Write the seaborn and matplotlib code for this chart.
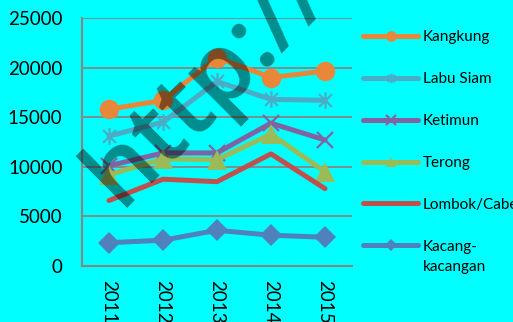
import matplotlib
matplotlib.use("Agg")
import matplotlib.pyplot as plt
from matplotlib.path import Path
import seaborn as sns
import pandas as pd

years = ["2011", "2012", "2013", "2014", "2015"]
kangkung = [15800, 16700, 21000, 19000, 19650]
labu_siam = [13100, 14500, 18600, 16800, 16700]
ketimun = [10100, 11400, 11400, 14400, 12700]
terong = [9200, 10800, 10700, 13300, 9500]
lombok = [6600, 8750, 8500, 11300, 7800]
kacang = [2350, 2600, 3600, 3100, 2900]

series_names = ["Kangkung", "Labu Siam", "Ketimun", "Terong", "Lombok/Cabe", "Kacang-"]
series_values = [kangkung, labu_siam, ketimun, terong, lombok, kacang]

colors = ["#E8873A", "#4BACC6", "#8064A2", "#9BBB59", "#C0504D", "#4F81BD"]
asterisk = Path([(-1, -1), (1, 1), (-1, 1), (1, -1), (0, -1.3), (0, 1.3)],
                [Path.MOVETO, Path.LINETO, Path.MOVETO, Path.LINETO, Path.MOVETO, Path.LINETO])
markers = ["o", asterisk, "x", "^", None, "D"]
msizes = [14, 12, 12, 14, 0, 11]

sns.set_theme(style="white")
plt.rcParams["font.family"] = ["Lato", "DejaVu Sans"]
plt.rcParams["text.color"] = "black"
plt.rcParams["xtick.color"] = "black"
plt.rcParams["ytick.color"] = "black"

BG = "#00FFFF"
fig = plt.figure(figsize=(5.13, 3.22), dpi=100, facecolor=BG)
ax = fig.add_axes([82 / 513, 56 / 322, 270 / 513, 248 / 322])
ax.set_facecolor(BG)

for name, vals, c, m, ms in zip(series_names, series_values, colors, markers, msizes):
    df = pd.DataFrame({"year": years, "value": vals})
    kw = {}
    if m is not None:
        thin = (m == "x") or (m is asterisk)
        kw = dict(marker=m, markersize=ms, markeredgewidth=1.6 if thin else 0,
                  markeredgecolor=c)
    sns.lineplot(data=df, x="year", y="value", ax=ax, color=c, linewidth=3.6,
                 label=name, sort=False, **kw)

ax.set_xlim(-0.5, 4.5)
ax.set_ylim(0, 25000)
ax.set_yticks([0, 5000, 10000, 15000, 20000, 25000])
ax.set_xlabel("")
ax.set_ylabel("")
ax.grid(axis="y", color="#868686", linewidth=1.3)
ax.grid(axis="x", visible=False)
for s in ["top", "right"]:
    ax.spines[s].set_visible(False)
for s in ["left", "bottom"]:
    ax.spines[s].set_color("#868686")
    ax.spines[s].set_linewidth(1.5)
ax.tick_params(axis="y", length=0, pad=14, labelsize=13.5, labelcolor="black")
ax.tick_params(axis="x", length=0, pad=10, labelsize=13.5, labelcolor="black", labelrotation=270)
for t in ax.get_xticklabels():
    t.set_va("top")
    t.set_ha("center")

leg = ax.legend(loc="upper left", bbox_to_anchor=(363 / 513, 1 - 30 / 322),
                bbox_transform=fig.transFigure, frameon=False, fontsize=11,
                handlelength=3.6, handletextpad=0.3, labelspacing=1.83,
                borderpad=0, borderaxespad=0, markerscale=0.55)
for t in leg.get_texts():
    t.set_color("black")

fig.canvas.draw()
last = leg.get_texts()[-1]
bb = last.get_window_extent()
inv = fig.transFigure.inverted()
x0, y0 = inv.transform((bb.x0, bb.y0))
fig.text(x0, y0 - 20 / 322, "kacangan", fontsize=11, ha="left", va="bottom", color="black")

# watermark
fig.text(120 / 513, 1 - 208 / 322, "http://", fontsize=70, rotation=45, fontweight=600,
         rotation_mode="anchor", ha="left", va="baseline", color="black", alpha=0.45,
         family=["Open Sans", "DejaVu Sans"], zorder=20)

fig.savefig("out.png", dpi=100, facecolor=BG)
